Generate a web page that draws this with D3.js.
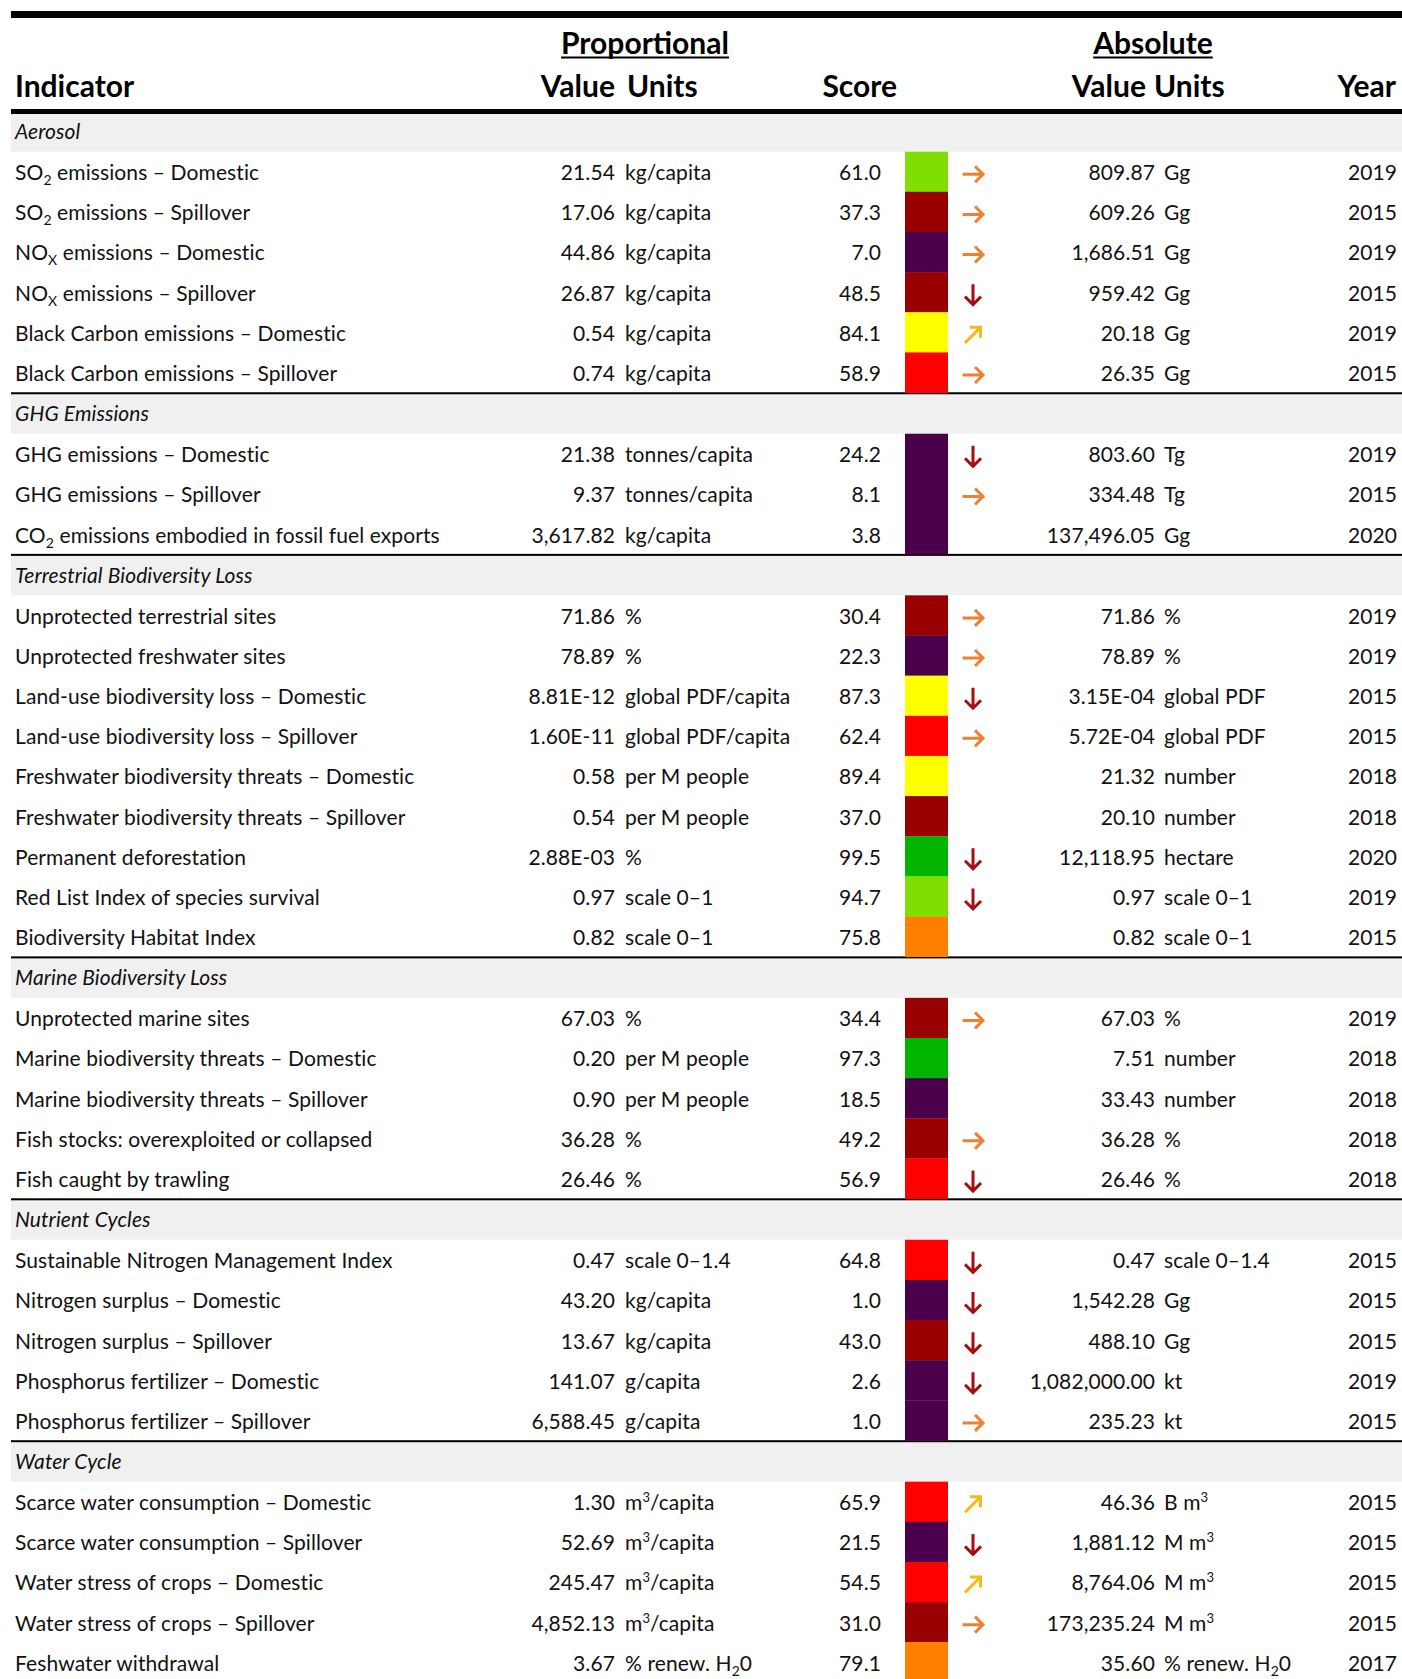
<!DOCTYPE html>
<html>
<head>
<meta charset="utf-8">
<script src="https://cdn.jsdelivr.net/npm/d3@7"></script>
<style>
  body { margin: 0; background: #fff; }
  svg { display: block; font-family: Lato, "DejaVu Sans", sans-serif; }
</style>
</head>
<body>
<div id="my_dataviz"></div>
<script>
let width = 1402;
let height = 1679;

// categories and how many indicators sit under each one
let categories = ["Aerosol", "GHG Emissions", "Terrestrial Biodiversity Loss", "Marine Biodiversity Loss", "Nutrient Cycles", "Water Cycle"];
let categoryCounts = [6, 3, 9, 5, 5, 5];

// _{..} = subscript, ^{..} = superscript
let indicators = [
  "SO_{2} emissions – Domestic", "SO_{2} emissions – Spillover", "NO_{X} emissions – Domestic", "NO_{X} emissions – Spillover",
  "Black Carbon emissions – Domestic", "Black Carbon emissions – Spillover",
  "GHG emissions – Domestic", "GHG emissions – Spillover", "CO_{2} emissions embodied in fossil fuel exports",
  "Unprotected terrestrial sites", "Unprotected freshwater sites", "Land-use biodiversity loss – Domestic",
  "Land-use biodiversity loss – Spillover", "Freshwater biodiversity threats – Domestic", "Freshwater biodiversity threats – Spillover",
  "Permanent deforestation", "Red List Index of species survival", "Biodiversity Habitat Index",
  "Unprotected marine sites", "Marine biodiversity threats – Domestic", "Marine biodiversity threats – Spillover",
  "Fish stocks: overexploited or collapsed", "Fish caught by trawling",
  "Sustainable Nitrogen Management Index", "Nitrogen surplus – Domestic", "Nitrogen surplus – Spillover",
  "Phosphorus fertilizer – Domestic", "Phosphorus fertilizer – Spillover",
  "Scarce water consumption – Domestic", "Scarce water consumption – Spillover", "Water stress of crops – Domestic",
  "Water stress of crops – Spillover", "Feshwater withdrawal"
];

let propValues = [
  "21.54", "17.06", "44.86", "26.87", "0.54", "0.74",
  "21.38", "9.37", "3,617.82",
  "71.86", "78.89", "8.81E-12", "1.60E-11", "0.58", "0.54", "2.88E-03", "0.97", "0.82",
  "67.03", "0.20", "0.90", "36.28", "26.46",
  "0.47", "43.20", "13.67", "141.07", "6,588.45",
  "1.30", "52.69", "245.47", "4,852.13", "3.67"
];

let propUnits = [
  "kg/capita", "kg/capita", "kg/capita", "kg/capita", "kg/capita", "kg/capita",
  "tonnes/capita", "tonnes/capita", "kg/capita",
  "%", "%", "global PDF/capita", "global PDF/capita", "per M people", "per M people", "%", "scale 0–1", "scale 0–1",
  "%", "per M people", "per M people", "%", "%",
  "scale 0–1.4", "kg/capita", "kg/capita", "g/capita", "g/capita",
  "m^{3}/capita", "m^{3}/capita", "m^{3}/capita", "m^{3}/capita", "% renew. H_{2}0"
];

let scores = [
  61.0, 37.3, 7.0, 48.5, 84.1, 58.9,
  24.2, 8.1, 3.8,
  30.4, 22.3, 87.3, 62.4, 89.4, 37.0, 99.5, 94.7, 75.8,
  34.4, 97.3, 18.5, 49.2, 56.9,
  64.8, 1.0, 43.0, 2.6, 1.0,
  65.9, 21.5, 54.5, 31.0, 79.1
];

let ratings = [
  "lightgreen", "darkred", "purple", "darkred", "yellow", "red",
  "purple", "purple", "purple",
  "darkred", "purple", "yellow", "red", "yellow", "darkred", "green", "lightgreen", "orange",
  "darkred", "green", "purple", "darkred", "red",
  "red", "purple", "darkred", "purple", "purple",
  "red", "purple", "red", "darkred", "orange"
];

// trend: flat / down / up / none
let trends = [
  "flat", "flat", "flat", "down", "up", "flat",
  "down", "flat", "none",
  "flat", "flat", "down", "flat", "none", "none", "down", "down", "none",
  "flat", "none", "none", "flat", "down",
  "down", "down", "down", "down", "flat",
  "up", "down", "up", "flat", "none"
];

let absValues = [
  "809.87", "609.26", "1,686.51", "959.42", "20.18", "26.35",
  "803.60", "334.48", "137,496.05",
  "71.86", "78.89", "3.15E-04", "5.72E-04", "21.32", "20.10", "12,118.95", "0.97", "0.82",
  "67.03", "7.51", "33.43", "36.28", "26.46",
  "0.47", "1,542.28", "488.10", "1,082,000.00", "235.23",
  "46.36", "1,881.12", "8,764.06", "173,235.24", "35.60"
];

let absUnits = [
  "Gg", "Gg", "Gg", "Gg", "Gg", "Gg",
  "Tg", "Tg", "Gg",
  "%", "%", "global PDF", "global PDF", "number", "number", "hectare", "scale 0–1", "scale 0–1",
  "%", "number", "number", "%", "%",
  "scale 0–1.4", "Gg", "Gg", "kt", "kt",
  "B m^{3}", "M m^{3}", "M m^{3}", "M m^{3}", "% renew. H_{2}0"
];

let years = [
  2019, 2015, 2019, 2015, 2019, 2015,
  2019, 2015, 2020,
  2019, 2019, 2015, 2015, 2018, 2018, 2020, 2019, 2015,
  2019, 2018, 2018, 2018, 2018,
  2015, 2015, 2015, 2019, 2015,
  2015, 2015, 2015, 2015, 2017
];

let svg = d3.select('#my_dataviz').append('svg')
  .attr('width', width)
  .attr('height', height)

let ratingColor = d3.scaleOrdinal()
  .domain(["green", "lightgreen", "yellow", "orange", "red", "darkred", "purple"])
  .range(["#00b400", "#80df00", "#ffff00", "#ff8000", "#ff0000", "#990000", "#4b004b"]);

let trendColor = d3.scaleOrdinal()
  .domain(["flat", "down", "up"])
  .range(["#ef8033", "#a30f12", "#fbb716"]);

let trendPath = d3.scaleOrdinal()
  .domain(["flat", "down", "up"])
  .range([
    "M-10.5,0H9.5M2,-8L10,0L2,8",
    "M0,-10.5V9.5M-8,2L0,10L8,2",
    "M-8,8L7,-7M-3,-7.5H7.5V3"
  ]);

// column anchors
let col = d3.scaleOrdinal()
  .domain(["ind", "pval", "punit", "score", "cell", "arrow", "aval", "aunit", "year"])
  .range([15, 615, 625, 881, 905, 973, 1155, 1164, 1397]);

let rowH = 40.15;
let catH = 41.16;
let tableTop = 110.5;
let left = 11;
let fontSize = 21;
let spacing = 0.1;

function rich(sel, str) {
  let parts = str.split(/(_\{[^}]*\}|\^\{[^}]*\})/).filter(s => s.length);
  let shift = 0;
  parts.forEach(p => {
    let t = sel.append('tspan');
    if (p.startsWith('_{')) {
      t.text(p.slice(2, -1)).attr('font-size', 14).attr('dy', 5 - shift);
      shift = 5;
    } else if (p.startsWith('^{')) {
      t.text(p.slice(2, -1)).attr('font-size', 13).attr('dy', -8 - shift);
      shift = -8;
    } else {
      t.text(p).attr('dy', -shift);
      shift = 0;
    }
  });
}

// build layout
let rows = [];
let cats = [];
let y = tableTop;
let k = 0;
categories.forEach((c, ci) => {
  cats.push({ name: c, y: y, first: ci === 0 });
  y += catH;
  for (let j = 0; j < categoryCounts[ci]; j++) {
    rows.push({
      i: k, y: y,
      ind: indicators[k], pval: propValues[k], punit: propUnits[k],
      score: scores[k], rating: ratings[k], trend: trends[k],
      aval: absValues[k], aunit: absUnits[k], year: years[k]
    });
    k++;
    y += rowH;
  }
});

// category bands
let cg = svg.selectAll('.cat').data(cats).enter().append('g').classed('cat', true);
cg.append('rect')
  .attr('x', left).attr('y', d => d.y)
  .attr('width', width - left).attr('height', catH)
  .attr('fill', '#f0f0f0');
cg.filter(d => !d.first).append('rect')
  .attr('x', left).attr('y', d => d.y - 0.3)
  .attr('width', width - left).attr('height', 2)
  .attr('fill', '#000');
cg.append('text')
  .attr('x', col('ind')).attr('y', d => d.y + 28.8)
  .attr('font-size', fontSize).attr('font-style', 'italic').attr('fill', '#111')
  .attr('letter-spacing', spacing)
  .text(d => d.name);

// data rows
let rg = svg.selectAll('.row').data(rows).enter().append('g').classed('row', true)
  .attr('transform', d => `translate(0,${d.y})`);

rg.append('rect')
  .attr('x', col('cell')).attr('y', 0)
  .attr('width', 43).attr('height', rowH + 0.3)
  .attr('fill', d => ratingColor(d.rating));

let base = 28.5;
function txt(key, anchor, fmt) {
  rg.append('text')
    .attr('x', col(key)).attr('y', base)
    .attr('text-anchor', anchor)
    .attr('font-size', fontSize).attr('fill', '#111')
    .attr('letter-spacing', spacing)
    .each(function(d) { rich(d3.select(this), fmt ? fmt(d[key]) : String(d[key])); });
}
txt('ind', 'start');
txt('pval', 'end');
txt('punit', 'start');
txt('score', 'end', d3.format('.1f'));
txt('aval', 'end');
txt('aunit', 'start');
txt('year', 'end');

rg.filter(d => d.trend !== 'none').append('path')
  .attr('transform', d => `translate(${col('arrow')},${rowH / 2 + 2.5})`)
  .attr('d', d => trendPath(d.trend))
  .attr('fill', 'none')
  .attr('stroke', d => trendColor(d.trend))
  .attr('stroke-width', 3);

// header
svg.append('rect').attr('x', left).attr('y', 11).attr('width', width - left).attr('height', 7).attr('fill', '#000');
svg.append('rect').attr('x', left).attr('y', 109).attr('width', width - left).attr('height', 5).attr('fill', '#000');

let groups = [{ t: "Proportional", cx: 645 }, { t: "Absolute", cx: 1153 }];
groups.forEach(g => {
  let t = svg.append('text')
    .attr('x', g.cx).attr('y', 54).attr('text-anchor', 'middle')
    .attr('font-size', 30).attr('font-weight', 'bold').attr('fill', '#000')
    .text(g.t);
  let w = t.node().getComputedTextLength();
  svg.append('rect').attr('x', g.cx - w / 2).attr('y', 56.5).attr('width', w).attr('height', 2).attr('fill', '#000');
});

let heads = [
  { t: "Indicator", x: 15, a: "start" },
  { t: "Value", x: 615, a: "end" },
  { t: "Units", x: 627, a: "start" },
  { t: "Score", x: 897, a: "end" },
  { t: "Value", x: 1146, a: "end" },
  { t: "Units", x: 1154, a: "start" },
  { t: "Year", x: 1396, a: "end" }
];
svg.selectAll('.head').data(heads).enter().append('text').classed('head', true)
  .attr('x', d => d.x).attr('y', 97).attr('text-anchor', d => d.a)
  .attr('font-size', 30).attr('font-weight', 'bold').attr('fill', '#000')
  .text(d => d.t);
</script>
</body>
</html>
